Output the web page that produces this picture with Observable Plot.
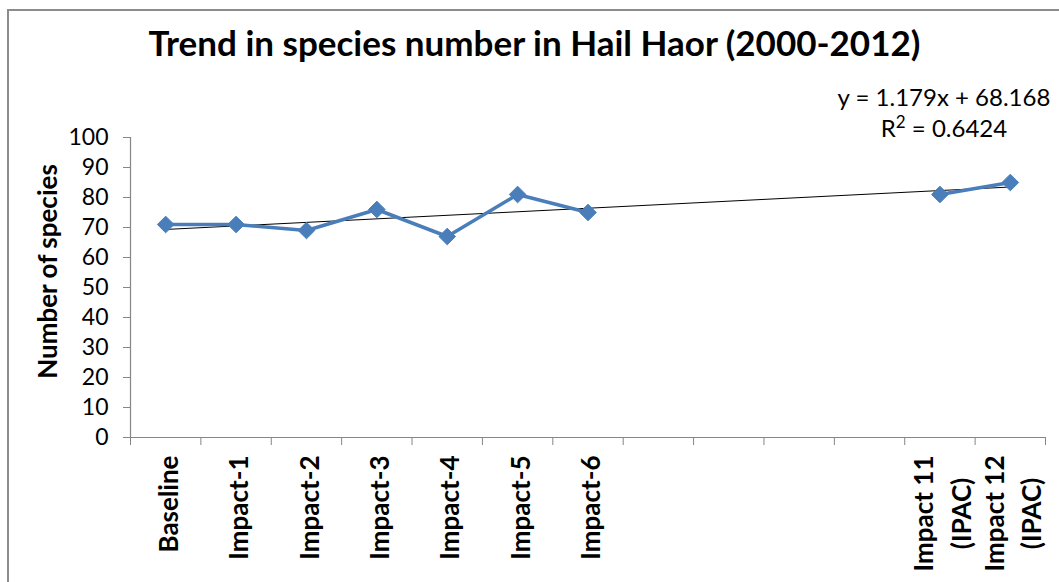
<!DOCTYPE html>
<html>
<head>
<meta charset="utf-8">
<script src="https://cdn.jsdelivr.net/npm/d3@7"></script>
<script src="https://cdn.jsdelivr.net/npm/@observablehq/plot@0.6"></script>
<style>
  html, body { margin: 0; padding: 0; background: #fff; }
  #wrap { position: relative; width: 1059px; height: 582px; overflow: hidden; font-family: Lato, "Open Sans", sans-serif; color: #000; }
  #frame { position: absolute; left: 7px; top: 9px; width: 1100px; height: 600px; border-left: 2px solid #8c8c8c; border-top: 2px solid #8c8c8c; }
  #title { position: absolute; left: 0; top: 18px; width: 1069px; text-align: center; font-weight: 700; font-size: 35px; line-height: 48px; }
  .eq { position: absolute; left: 794px; width: 300px; text-align: center; font-size: 24px; white-space: nowrap; line-height: 30px; }
  .eq sup { font-size: 17px; line-height: 0; }
  #chart { position: absolute; left: 0; top: 62px; }
</style>
</head>
<body>
<div id="wrap">
  <div id="frame"></div>
  <div id="title"></div>
  <div class="eq" id="eq1" style="top:82px"></div>
  <div class="eq" id="eq2" style="top:113px"></div>
  <div id="chart"></div>
</div>
<script>
const titleText = "Trend in species number in Hail Haor (2000-2012)";
const yAxisTitle = "Number of species";
const categories = ["Baseline", "Impact-1", "Impact-2", "Impact-3", "Impact-4", "Impact-5", "Impact-6", "", "", "", "", "Impact 11\n(IPAC)", "Impact 12\n(IPAC)"];
const species = [71, 71, 69, 76, 67, 81, 75, null, null, null, null, 81, 85];
const yTicks = [0, 10, 20, 30, 40, 50, 60, 70, 80, 90, 100];
const trendSlope = 1.179;
const trendIntercept = 68.168;
const trendR2 = "0.6424";

const rows = categories.map((c, i) => ({pos: i + 1, label: c, value: species[i]}));
const boundaries = d3.range(0, categories.length + 1).map(i => i + 0.5);
const trend = [1, categories.length].map(p => ({pos: p, value: trendSlope * p + trendIntercept}));

document.getElementById("title").textContent = titleText;
document.getElementById("eq1").textContent = `y = ${trendSlope}x + ${trendIntercept}`;
document.getElementById("eq2").innerHTML = `R<sup>2</sup> = ${trendR2}`;

const axisColor = "#868686";
const blue = "#4a7ebb";
const labelFont = 26;
const fontFamily = "Lato, 'Open Sans', sans-serif";

// measure label lines so that each multi-line label is centred line by line
const ctx = document.createElement("canvas").getContext("2d");
ctx.font = `bold ${labelFont}px Lato`;
const labelMarks = rows.filter(d => d.label).map(d => {
  const w = d3.max(d.label.split("\n"), s => ctx.measureText(s).width);
  return Plot.text([d], {x: "pos", y: () => 0, text: "label", rotate: -90, textAnchor: "middle", dy: 18 + w / 2, fontSize: labelFont, fontWeight: "bold", lineHeight: 1.45, fill: "#000"});
});

const chart = Plot.plot({
  width: 1059,
  height: 520,
  marginTop: 75,
  marginBottom: 145,
  marginLeft: 130,
  marginRight: 14,
  style: {fontFamily, background: "transparent", overflow: "visible"},
  x: {domain: [0.5, categories.length + 0.5], axis: null},
  y: {domain: [0, 100], axis: null},
  marks: [
    Plot.axisY({ticks: yTicks, tickSize: 7, stroke: axisColor, tickFormat: () => "", label: null}),
    Plot.text(yTicks, {y: d => d, frameAnchor: "left", textAnchor: "end", dx: -22, text: d => String(d), fontSize: 23, fill: "#000"}),
    Plot.ruleX([0.5], {stroke: axisColor, strokeWidth: 1.2}),
    Plot.ruleY([0], {stroke: axisColor, strokeWidth: 1.2}),
    Plot.axisX({ticks: boundaries, tickSize: 8, stroke: axisColor, tickFormat: () => "", label: null}),
    ...labelMarks,
    Plot.text([yAxisTitle], {frameAnchor: "left", textAnchor: "middle", text: d => d, rotate: -90, dx: -82, dy: -16, fontSize: 26, fontWeight: "bold", fill: "#000"}),
    Plot.line(trend, {x: "pos", y: "value", stroke: "#000", strokeWidth: 1}),
    Plot.line(rows, {x: "pos", y: "value", stroke: blue, strokeWidth: 3.5, strokeLinejoin: "round"}),
    Plot.dot(rows.filter(d => d.value != null), {x: "pos", y: "value", symbol: "diamond2", r: 7.5, fill: blue, stroke: blue, strokeWidth: 1})
  ]
});
document.getElementById("chart").appendChild(chart);
</script>
</body>
</html>
